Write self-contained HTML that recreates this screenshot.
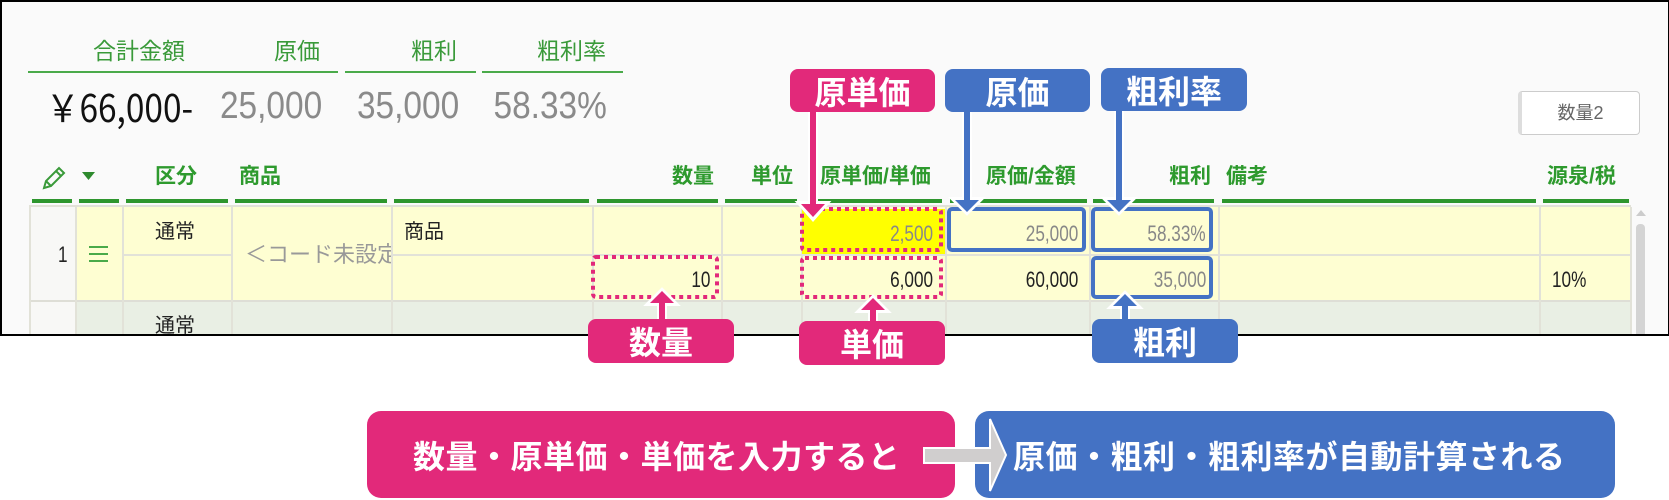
<!DOCTYPE html>
<html><head><meta charset="utf-8"><style>
body{margin:0;width:1669px;height:500px;background:#fff;position:relative;overflow:hidden;font-family:"Liberation Sans","Noto Sans CJK JP",sans-serif}
.a{position:absolute;white-space:nowrap}
#frame{position:absolute;left:0;top:0;width:1666px;height:332px;border:2px solid #000;border-right:2px solid #000;background:#fafafa;overflow:hidden;box-sizing:content-box}
.g{color:#3a9a3a}
.hd{color:#2e9a2e;font-weight:bold;font-size:21px;line-height:24px;top:163px}
.bar{position:absolute;top:197px;height:4px;background:#2e962e}
.ul{position:absolute;top:69px;height:2px;background:#4aaa4a}
.n{display:inline-block;transform:scaleX(.78);transform-origin:right center}
.nl{display:inline-block;transform:scaleX(.78);transform-origin:left center}
.sn{display:inline-block;transform:scaleX(.88);transform-origin:right center}
.snl{display:inline-block;transform:scaleX(.88);transform-origin:left center}
.lab{position:absolute;color:#fff;font-weight:bold;font-size:32px;text-align:center;border-radius:8px;line-height:44px;font-family:"Noto Sans CJK JP",sans-serif}
.pk{background:#e2297a}.bl{background:#4472c4}
</style></head><body>
<div id="frame">
<div class="a g" style="left:91px;top:34px;font-size:23px;line-height:30px">合計金額</div>
<div class="a g" style="left:272px;top:34px;font-size:23px;line-height:30px">原価</div>
<div class="a g" style="left:409px;top:34px;font-size:23px;line-height:30px">粗利</div>
<div class="a g" style="left:535px;top:34px;font-size:23px;line-height:30px">粗利率</div>
<div class="ul" style="left:26px;width:310px"></div>
<div class="ul" style="left:343px;width:131px"></div>
<div class="ul" style="left:480px;width:141px"></div>
<div class="a" style="left:44px;top:82px;font-size:38px;line-height:44px;color:#111;font-family:'Noto Sans CJK JP',sans-serif;width:150px"><span class="snl">￥66,000-</span></div>
<div class="a" style="left:190px;width:130px;text-align:right;top:82px;font-size:38px;line-height:44px;color:#8a8a8a"><span class="sn">25,000</span></div>
<div class="a" style="left:327px;width:130px;text-align:right;top:82px;font-size:38px;line-height:44px;color:#8a8a8a"><span class="sn">35,000</span></div>
<div class="a" style="left:475px;width:130px;text-align:right;top:82px;font-size:38px;line-height:44px;color:#8a8a8a"><span class="sn">58.33%</span></div>
<div class="a" style="left:1516px;top:89px;width:122px;height:44px;border:1px solid #ccc;border-left:4px solid #ddd;border-radius:4px;background:#fff;box-sizing:border-box;text-align:center;line-height:42px;font-size:18px;color:#666">数量2</div>
<svg class="a" style="left:38px;top:162px" width="28" height="28" viewBox="0 0 28 28"><path d="M4 24 L6 17 L19 4 L24 9 L11 22 Z M6 17 L11 22 M16 7 L21 12" fill="none" stroke="#3a9a3a" stroke-width="2"/></svg>
<svg class="a" style="left:80px;top:170px" width="13" height="8"><path d="M0 0 H13 L6.5 8Z" fill="#2e8a2e"/></svg>
<div class="a hd" style="left:153px">区分</div>
<div class="a hd" style="left:237px">商品</div>
<div class="a hd" style="left:600px;width:112px;text-align:right">数量</div>
<div class="a hd" style="left:749px">単位</div>
<div class="a hd" style="left:818px">原単価/単価</div>
<div class="a hd" style="left:984px">原価/金額</div>
<div class="a hd" style="left:1100px;width:109px;text-align:right">粗利</div>
<div class="a hd" style="left:1224px">備考</div>
<div class="a hd" style="left:1545px">源泉/税</div>
<div class="bar" style="left:30px;width:40px"></div>
<div class="bar" style="left:77px;width:40px"></div>
<div class="bar" style="left:124px;width:102px"></div>
<div class="bar" style="left:233px;width:152px"></div>
<div class="bar" style="left:392px;width:195px"></div>
<div class="bar" style="left:595px;width:121px"></div>
<div class="bar" style="left:723px;width:72px"></div>
<div class="bar" style="left:816px;width:124px"></div>
<div class="bar" style="left:948px;width:137px"></div>
<div class="bar" style="left:1091px;width:121px"></div>
<div class="bar" style="left:1220px;width:314px"></div>
<div class="bar" style="left:1541px;width:86px"></div>
<div class="a" style="left:27px;top:205px;width:1602px;height:95px;background:#fefed2"></div>
<div class="a" style="left:27px;top:300px;width:1602px;height:40px;background:#e9efe4"></div>
<div class="a" style="left:27px;top:205px;width:47px;height:140px;background:#f8f8f6"></div>
<div class="a" style="left:27px;top:203px;width:1602px;height:2px;background:#e2e2d8"></div>
<div class="a" style="left:27px;top:298px;width:1602px;height:2px;background:#deded6"></div>
<div class="a" style="left:120px;top:252px;width:110px;height:2px;background:#e2e2d8"></div>
<div class="a" style="left:390px;top:252px;width:1239px;height:2px;background:#e2e2d8"></div>
<div class="a" style="left:27px;top:205px;width:2px;height:140px;background:#e2e2d8"></div>
<div class="a" style="left:73px;top:205px;width:2px;height:140px;background:#e2e2d8"></div>
<div class="a" style="left:120px;top:205px;width:2px;height:140px;background:#e2e2d8"></div>
<div class="a" style="left:229px;top:205px;width:2px;height:140px;background:#e2e2d8"></div>
<div class="a" style="left:389px;top:205px;width:2px;height:140px;background:#e2e2d8"></div>
<div class="a" style="left:590px;top:205px;width:2px;height:140px;background:#e2e2d8"></div>
<div class="a" style="left:719px;top:205px;width:2px;height:140px;background:#e2e2d8"></div>
<div class="a" style="left:799px;top:205px;width:2px;height:140px;background:#e2e2d8"></div>
<div class="a" style="left:943px;top:205px;width:2px;height:140px;background:#e2e2d8"></div>
<div class="a" style="left:1087px;top:205px;width:2px;height:140px;background:#e2e2d8"></div>
<div class="a" style="left:1216px;top:205px;width:2px;height:140px;background:#e2e2d8"></div>
<div class="a" style="left:1537px;top:205px;width:2px;height:140px;background:#e2e2d8"></div>
<div class="a" style="left:1628px;top:205px;width:2px;height:140px;background:#e2e2d8"></div>
<div class="a" style="left:1634px;top:208px;width:0;height:0;border-left:5px solid transparent;border-right:5px solid transparent;border-bottom:6px solid #ccc"></div>
<div class="a" style="left:1634px;top:222px;width:9px;height:120px;background:#d4d4d4;border-radius:4px"></div>
<div class="a" style="left:153px;top:218px;font-size:20px;line-height:24px;color:#222">通常</div>
<div class="a" style="left:153px;top:312px;font-size:20px;line-height:24px;color:#222">通常</div>
<div class="a" style="left:56px;top:240px;font-size:22px;line-height:26px;color:#222"><span class="nl">1</span></div>
<div class="a" style="left:87px;top:244px;width:19px;height:2px;background:#4aaa4a;box-shadow:0 7px 0 #4aaa4a,0 14px 0 #4aaa4a"></div>
<div class="a" style="left:243px;top:240px;width:146px;overflow:hidden;font-size:22px;line-height:26px;color:#999">＜コード未設定</div>
<div class="a" style="left:402px;top:218px;font-size:20px;line-height:24px;color:#222">商品</div>
<div class="a" style="left:600px;width:108px;text-align:right;top:265px;font-size:22px;line-height:26px;color:#222"><span class="n">10</span></div>
<div class="a" style="left:800px;top:207px;width:143px;height:45px;background:#ffff00"></div>
<div class="a" style="left:800px;width:131px;text-align:right;top:219px;font-size:22px;line-height:26px;color:#888"><span class="n">2,500</span></div>
<div class="a" style="left:800px;width:131px;text-align:right;top:265px;font-size:22px;line-height:26px;color:#222"><span class="n">6,000</span></div>
<div class="a" style="left:945px;width:131px;text-align:right;top:219px;font-size:22px;line-height:26px;color:#888"><span class="n">25,000</span></div>
<div class="a" style="left:945px;width:131px;text-align:right;top:265px;font-size:22px;line-height:26px;color:#222"><span class="n">60,000</span></div>
<div class="a" style="left:1090px;width:114px;text-align:right;top:219px;font-size:22px;line-height:26px;color:#888"><span class="n">58.33%</span></div>
<div class="a" style="left:1090px;width:114px;text-align:right;top:265px;font-size:22px;line-height:26px;color:#888"><span class="n">35,000</span></div>
<div class="a" style="left:1550px;top:265px;font-size:22px;line-height:26px;color:#222"><span class="nl">10%</span></div>
</div>
<svg class="a" style="left:0;top:0" width="1669" height="500">
<g fill="none" stroke="#e2297a" stroke-width="4" stroke-dasharray="4 4">
<rect x="593" y="257" width="124" height="40" rx="3"/>
<rect x="802" y="209" width="139" height="41" rx="3"/>
<rect x="802" y="258" width="139" height="39" rx="3"/>
</g>
<g fill="none" stroke="#4472c4" stroke-width="4">
<rect x="949" y="209" width="135" height="41" rx="3"/>
<rect x="1093" y="209" width="118" height="41" rx="3"/>
<rect x="1093" y="258" width="118" height="39" rx="3"/>
</g>
<g stroke="#fff" stroke-width="10" fill="#fff" stroke-linejoin="miter">
<path d="M813 112 V204"/><path d="M799 203 H827 L813 219Z" stroke-width="4"/>
<path d="M967 112 V200"/><path d="M953 199 H981 L967 213Z" stroke-width="4"/>
<path d="M1119 111 V200"/><path d="M1105 199 H1133 L1119 213Z" stroke-width="4"/>
<path d="M662 320 V303"/><path d="M648 304 H676 L662 290Z" stroke-width="4"/>
<path d="M873 322 V310"/><path d="M859 311 H887 L873 297Z" stroke-width="4"/>
<path d="M1125 320 V306"/><path d="M1111 307 H1139 L1125 293Z" stroke-width="4"/>
</g>
<g stroke-width="6">
<path d="M813 112 V206" stroke="#e2297a"/><path d="M801 204 H825 L813 217Z" fill="#e2297a"/>
<path d="M967 112 V201" stroke="#4472c4"/><path d="M955 200 H979 L967 212Z" fill="#4472c4"/>
<path d="M1119 111 V201" stroke="#4472c4"/><path d="M1107 200 H1131 L1119 212Z" fill="#4472c4"/>
<path d="M662 320 V302" stroke="#e2297a"/><path d="M650 303 H674 L662 291Z" fill="#e2297a"/>
<path d="M873 322 V309" stroke="#e2297a"/><path d="M861 310 H885 L873 298Z" fill="#e2297a"/>
<path d="M1125 320 V305" stroke="#4472c4"/><path d="M1113 306 H1137 L1125 294Z" fill="#4472c4"/>
</g>
</svg>
<div class="lab pk" style="left:790px;top:69px;width:145px;height:43px">原単価</div>
<div class="lab bl" style="left:945px;top:69px;width:145px;height:43px">原価</div>
<div class="lab bl" style="left:1101px;top:68px;width:146px;height:43px">粗利率</div>
<div class="lab pk" style="left:588px;top:319px;width:146px;height:44px">数量</div>
<div class="lab pk" style="left:799px;top:321px;width:146px;height:44px">単価</div>
<div class="lab bl" style="left:1092px;top:319px;width:146px;height:44px">粗利</div>
<div class="a pk" style="left:367px;top:411px;width:588px;height:87px;border-radius:14px"></div>
<div class="a bl" style="left:975px;top:411px;width:640px;height:87px;border-radius:14px"></div>
<svg class="a" style="left:920px;top:415px" width="90" height="80"><path d="M4 33 H70 V4 L86 40 L70 76 V48 H4 Z" fill="#d0cece" stroke="#fff" stroke-width="2"/></svg>
<div class="a" style="left:413px;top:433px;font-size:32px;line-height:44px;color:#fff;font-weight:bold;font-family:'Noto Sans CJK JP',sans-serif;letter-spacing:0.5px">数量・原単価・単価を入力すると</div>
<div class="a" style="left:1013px;top:433px;font-size:32px;line-height:44px;color:#fff;font-weight:bold;font-family:'Noto Sans CJK JP',sans-serif;letter-spacing:0.5px">原価・粗利・粗利率が自動計算される</div>
</body></html>
